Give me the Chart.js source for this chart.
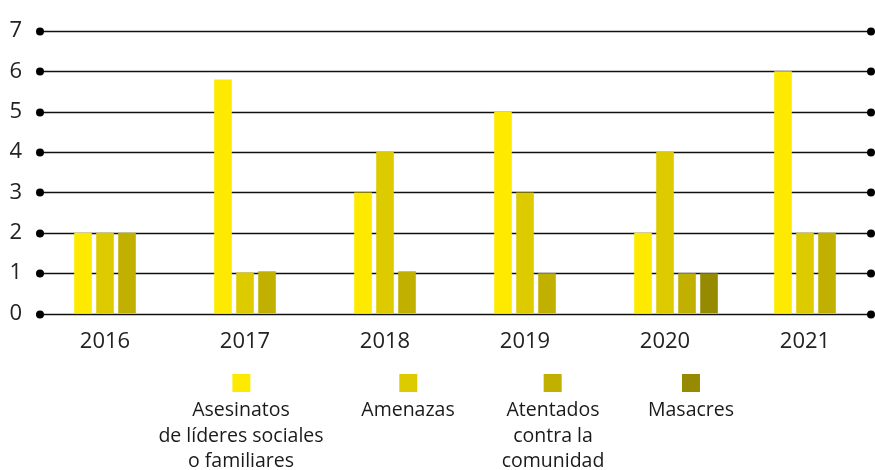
<!DOCTYPE html>
<html>
<head>
<meta charset="utf-8">
<script src="https://cdn.jsdelivr.net/npm/chart.js@4"></script>
<style>
  html, body { margin: 0; padding: 0; background: #fff; }
  #wrap { position: relative; width: 875px; height: 470px; }
  #legend { position: absolute; left: 0; top: 0; width: 875px; height: 470px; pointer-events: none; }
  .item { position: absolute; top: 374px; transform: translateX(-50%); text-align: center;
          font-family: "Open Sans", Lato, sans-serif; font-size: 19.5px; line-height: 25.5px; color: #1a1a1a; white-space: nowrap; }
  .sw { width: 18px; height: 18px; margin: 0 auto 4px auto; }
</style>
</head>
<body>
<div id="wrap">
  <canvas id="c" width="875" height="470"></canvas>
  <div id="legend"></div>
</div>
<script>
// ---- data ----
const years = ['2016', '2017', '2018', '2019', '2020', '2021'];
const asesinatos = [2, 5.8, 3, 5, 2, 6];
const amenazas   = [2, 1.02, 4, 3, 4, 2];
const atentados  = [2, 1.05, 1.05, 1, 1, 2];
const masacres   = [null, null, null, null, 1, null];
const seriesNames = [
  ['Asesinatos', 'de líderes sociales', 'o familiares'],
  ['Amenazas'],
  ['Atentados', 'contra la', 'comunidad'],
  ['Masacres']
];
const yTicks = [0, 1, 2, 3, 4, 5, 6, 7];

// ---- style ----
const colors = ['#FEEA00', '#DDCB00', '#C1B000', '#958A00'];
const legendCenters = [241, 408, 553, 691];

const seriesData = [asesinatos, amenazas, atentados, masacres];

const datasets = [
  // empty spacer slot (keeps the group shifted as in the original layout)
  { label: '', data: years.map(() => null), backgroundColor: 'rgba(0,0,0,0)' }
].concat(seriesData.map((d, i) => ({
  label: seriesNames[i].join(' '),
  data: d,
  backgroundColor: colors[i]
})));

const gridDots = {
  id: 'gridDots',
  beforeDatasetsDraw(chart) {
    const { ctx, chartArea, scales } = chart;
    const y = scales.y;
    const x0 = chartArea.left + 5, x1 = chartArea.right - 4;
    ctx.save();
    yTicks.forEach(v => {
      const py = Math.round(y.getPixelForValue(v)) + 0.5;
      ctx.strokeStyle = '#111';
      ctx.lineWidth = 1.6;
      ctx.beginPath(); ctx.moveTo(x0, py); ctx.lineTo(x1, py); ctx.stroke();
      ctx.fillStyle = '#000';
      ctx.beginPath(); ctx.arc(x0, py, 4, 0, Math.PI * 2); ctx.fill();
      ctx.beginPath(); ctx.arc(x1, py, 4, 0, Math.PI * 2); ctx.fill();
    });
    ctx.restore();
  }
};

new Chart(document.getElementById('c'), {
  type: 'bar',
  data: { labels: years, datasets },
  options: {
    responsive: false,
    animation: false,
    layout: { padding: { top: 31, right: 0, bottom: 100, left: 0 } },
    datasets: { bar: { categoryPercentage: 0.786, barPercentage: 0.8 } },
    plugins: { legend: { display: false }, tooltip: { enabled: false } },
    scales: {
      x: {
        grid: { display: false, drawTicks: false },
        border: { display: false },
        ticks: { padding: 15, color: '#222', font: { family: 'Open Sans', size: 22 } }
      },
      y: {
        min: 0, max: 7,
        afterFit(s) { s.width = 35; },
        grid: { display: false, drawTicks: false },
        border: { display: false },
        ticks: { stepSize: 1, padding: 13, color: '#222', font: { family: 'Open Sans', size: 22 } }
      }
    }
  },
  plugins: [gridDots]
});

// ---- HTML legend ----
const lg = document.getElementById('legend');
seriesNames.forEach((lines, i) => {
  const it = document.createElement('div');
  it.className = 'item';
  it.style.left = legendCenters[i] + 'px';
  const sw = document.createElement('div');
  sw.className = 'sw';
  sw.style.background = colors[i];
  it.appendChild(sw);
  lines.forEach(t => {
    const d = document.createElement('div');
    d.textContent = t;
    it.appendChild(d);
  });
  lg.appendChild(it);
});
</script>
</body>
</html>
